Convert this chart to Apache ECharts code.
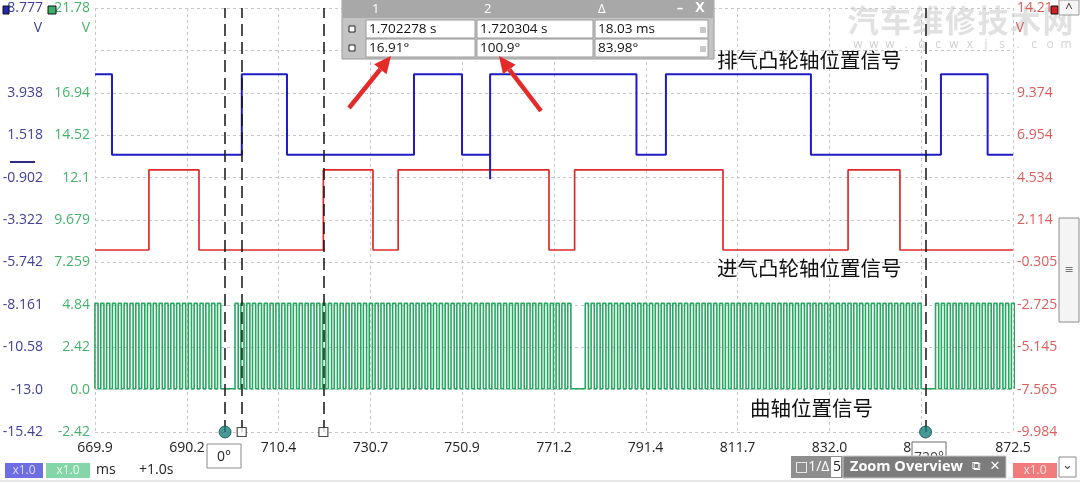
<!DOCTYPE html>
<html><head><meta charset="utf-8">
<script src="https://cdn.jsdelivr.net/npm/echarts@6/dist/echarts.min.js"></script>
<style>html,body{margin:0;padding:0;background:#fff;overflow:hidden}#c{width:1080px;height:484px}</style>
</head><body><div id="c"></div>
<script>
// ---------- data (time in ms, +1.0 s offset) ----------
const xTickLabels = ['669.9','690.2','710.4','730.7','750.9','771.2','791.4','811.7','832.0','852.2','872.5'];
const greenTickLabels = ['-2.42','0.0','2.42','4.84','7.259','9.679','12.1','14.52','16.94','21.78'];
const blueTickLabels  = ['-15.42','-13.0','-10.58','-8.161','-5.742','-3.322','-0.902','1.518','3.938','8.777'];
const redTickLabels   = ['-9.984','-7.565','-5.145','-2.725','-0.305','2.114','4.534','6.954','9.374','14.21'];

// exhaust camshaft (blue): starts high, toggles at each edge time
const exhaustEdges = [673.65, 702.3, 712.27, 740.3, 750.9, 757.1, 789.4, 795.9, 827.9, 856.6, 866.9];
const exhaustStartHigh = true;
const exhaustHigh = 5.0, exhaustLow = 0.4;
const exhaustGlitches = [[757.1, -1.0]];

// intake camshaft (red): starts low
const intakeEdges = [681.8, 692.85, 720.3, 731.25, 736.8, 770.1, 775.75, 808.5, 836.1, 847.55];
const intakeStartHigh = false;
const intakeHigh = 4.97, intakeLow = 0.4;

// crankshaft (green): rising edge time of every tooth
const crankRises = [
 669.88,671.17,672.46,673.75,675.03,676.32,677.61,678.90,680.19,681.48,682.76,684.05,685.34,686.63,687.92,689.21,690.49,691.78,693.07,694.36,695.65,696.94,
 700.80,702.09,703.38,704.66,705.95,707.24,708.53,709.82,711.11,712.39,713.68,714.97,716.26,717.55,718.84,720.12,721.41,722.70,723.99,725.28,726.57,727.85,729.14,730.43,
 731.72,733.01,734.30,735.58,736.87,738.16,739.45,740.74,742.03,743.31,744.60,745.89,747.18,748.47,749.76,751.04,752.33,753.62,754.91,756.20,757.49,758.77,760.06,761.35,
 762.64,763.93,765.22,766.50,767.79,769.08,770.37,771.66,772.94,774.23,
 778.10,779.39,780.68,781.96,783.25,784.54,785.83,787.12,788.41,789.69,790.98,792.27,793.56,794.85,796.14,797.42,798.71,800.00,801.29,802.58,803.87,805.15,806.44,807.73,
 809.02,810.31,811.60,812.88,814.17,815.46,816.75,818.04,819.33,820.61,821.90,823.19,824.48,825.77,827.06,828.34,829.63,830.92,832.21,833.50,834.79,836.07,837.36,838.65,
 839.94,841.23,842.52,843.80,845.09,846.38,847.67,848.96,850.24,851.53,
 855.40,856.69,857.98,859.26,860.55,861.84,863.13,864.42,865.71,866.99,868.28,869.57,870.86,872.15
];
const crankHighWidth = 0.7;
const crankHigh = 4.92, crankLow = 0.05;

// cursors
const phaseRulers = [698.6, 853.2];
const timeRulers = [702.278, 720.304];

// cursor table
const tableHeader = ['1', '2', 'Δ'];
const tableRow1 = ['1.702278 s', '1.720304 s', '18.03 ms'];
const tableRow2 = ['16.91°', '100.9°', '83.98°'];

// ---------- build ----------
const xVals = xTickLabels.map(parseFloat);
const xMin = xVals[0], xMax = xVals[xVals.length - 1];
const gVals = greenTickLabels.map(parseFloat);
const bVals = blueTickLabels.map(parseFloat);
const rVals = redTickLabels.map(parseFloat);

function stepData(edges, startHigh, hi, lo, glitches) {
  const pts = [];
  let s = startHigh;
  pts.push([xMin, s ? hi : lo]);
  edges.forEach(t => {
    pts.push([t, s ? hi : lo]);
    const g = glitches.find(q => Math.abs(q[0] - t) < 1e-9);
    if (g) pts.push([t, g[1]]);
    s = !s;
    pts.push([t, s ? hi : lo]);
  });
  pts.push([xMax, s ? hi : lo]);
  return pts;
}
function pulseData(rises, w, hi, lo) {
  const pts = [];
  rises.forEach(r => {
    pts.push([r, lo], [r, hi], [r + w, hi], [r + w, lo]);
  });
  return pts;
}
const exhaustData = stepData(exhaustEdges, exhaustStartHigh, exhaustHigh, exhaustLow, exhaustGlitches);
const intakeData = stepData(intakeEdges, intakeStartHigh, intakeHigh, intakeLow, []);
const crankData = pulseData(crankRises, crankHighWidth, crankHigh, crankLow);

function labelFmt(labels, vals) {
  return v => { const i = vals.findIndex(q => Math.abs(q - v) < 1e-6); return i >= 0 ? labels[i] : ''; };
}
const FONT = "'Open Sans','DejaVu Sans',sans-serif";
const CJK = "'Noto Sans CJK SC',sans-serif";

function yAx(labels, vals, color, pos, offset, margin) {
  return {
    type: 'value', position: pos, offset: offset, min: vals[0], max: vals[vals.length - 1], z: 5,
    axisLine: {show: false}, splitLine: {show: false},
    axisTick: {show: false, customValues: vals},
    axisLabel: {customValues: vals, formatter: labelFmt(labels, vals), color: color, fontSize: 14, fontFamily: FONT, margin: margin}
  };
}

const G = [];
function txt(x, y, s, o, z) {
  G.push({type: 'text', z: z || 100, style: Object.assign({x: x, y: y, text: s, fill: '#111', font: '14px ' + FONT, textAlign: 'left', textVerticalAlign: 'middle'}, o || {})});
}
function rect(x, y, w, h, fill, stroke, z) {
  G.push({type: 'rect', z: z || 100, shape: {x: x, y: y, width: w, height: h}, style: {fill: fill, stroke: stroke || null, lineWidth: 1}});
}
function arrow(x1, y1, x2, y2, color) {
  const a = Math.atan2(y2 - y1, x2 - x1), L = 17, W = 8;
  const bx = x2 - L * Math.cos(a), by = y2 - L * Math.sin(a);
  const px = -Math.sin(a) * W, py = Math.cos(a) * W;
  G.push({type: 'line', z: 110, shape: {x1: x1, y1: y1, x2: bx, y2: by}, style: {stroke: color, lineWidth: 4.5}});
  G.push({type: 'polygon', z: 110, shape: {points: [[x2, y2], [bx + px, by + py], [bx - px, by - py]]}, style: {fill: color}});
}

// watermark (behind labels)
const wm = '汽车维修技术网';
for (let i = 0; i < wm.length; i++) txt(863 + i * 32.5, 20, wm[i], {fill: 'rgba(205,205,205,0.6)', font: 'bold 31px ' + CJK, textAlign: 'center'}, -5);
const wm2 = 'www.qcwxjs.com';
for (let i = 0; i < wm2.length; i++) txt(858 + i * 16, 45, wm2[i], {fill: 'rgba(190,190,190,0.7)', font: '12px ' + FONT, textAlign: 'center'}, -5);

// top-left/right unit markers
rect(3, 6, 6, 8, '#2424b8', '#111');
rect(48, 6, 8, 8, '#3cb06a', '#111');
rect(1051, 6, 7, 8, '#d42020', '#111');
txt(38, 28, 'V', {fill: '#40409a', textAlign: 'center'});
txt(86, 28, 'V', {fill: '#45b36b', textAlign: 'center'});
txt(1020, 28, 'V', {fill: '#e15b5b', textAlign: 'center'});
G.push({type: 'line', z: 100, shape: {x1: 10, y1: 162, x2: 35, y2: 162}, style: {stroke: '#2b2b8a', lineWidth: 2}});

// scrollbar
rect(1059, 0, 20, 15, '#f6f6f6', '#999');
txt(1069, 8, '^', {fill: '#333', font: '13px ' + FONT, textAlign: 'center'});
rect(1059, 218, 20, 104, '#f4f4f4', '#8a8a8a');
txt(1069, 270, '≡', {fill: '#777', font: '11px ' + FONT, textAlign: 'center'});

// cursor table
rect(342, -1, 372, 60, '#c4c4c4', '#9a9a9a');
rect(343, 0, 370, 18, '#a8a8a8');
[372, 484, 598].forEach((x, i) => txt(x, 9, tableHeader[i], {fill: '#fff', font: '13px ' + FONT}));
txt(680, 8, '–', {fill: '#fff', font: 'bold 13px ' + FONT, textAlign: 'center'});
txt(700, 8, 'X', {fill: '#fff', font: 'bold 14px ' + FONT, textAlign: 'center'});
[[20, tableRow1], [39, tableRow2]].forEach(([y, row]) => {
  rect(366, y, 109, 18, '#fff', '#9a9a9a');
  rect(477, y, 116, 18, '#fff', '#9a9a9a');
  rect(595, y, 113, 18, '#fff', '#9a9a9a');
  rect(349, y + 6, 6, 6, '#fff', '#222');
  rect(700, y + 7, 6, 6, '#c8c8c8');
  [369, 480, 598].forEach((x, i) => txt(x, y + 9, row[i], {font: '13.5px ' + FONT}));
});

// arrows
arrow(349, 108, 391, 56, '#e52a2a');
arrow(541, 111, 499, 56, '#e52a2a');

// signal names
txt(717, 60, '排气凸轮轴位置信号', {font: '20.5px ' + CJK});
txt(717, 268, '进气凸轮轴位置信号', {font: '20.5px ' + CJK});
txt(750, 408, '曲轴位置信号', {font: '20.5px ' + CJK});

// bottom bar
rect(5, 463, 38, 15, '#6e6ee2');
txt(24, 470.5, 'x1.0', {fill: '#dcdcff', font: '12px ' + FONT, textAlign: 'center'});
rect(46, 463, 44, 15, '#84d6a8');
txt(68, 470.5, 'x1.0', {fill: '#eafff2', font: '12px ' + FONT, textAlign: 'center'});
txt(96, 470, 'ms', {fill: '#222'});
txt(139, 470, '+1.0s', {fill: '#222'});
rect(207, 444, 34, 24, '#fff', '#8a8a8a');
txt(224, 457, '0°', {fill: '#222', textAlign: 'center'});
rect(912, 442, 34, 22, '#fff', '#6a6a6a');
txt(929, 458, '720°', {fill: '#444', font: '14px ' + FONT, textAlign: 'center'});
rect(791, 456, 215, 22, '#8e8e8e');
txt(795, 467, '□1/Δ', {fill: '#fff', font: '14px ' + FONT});
rect(831, 457, 10, 20, '#fff');
txt(833, 467, '5', {fill: '#222', font: '14px ' + FONT});
rect(843, 456, 163, 22, '#7c7c7c', '#c8c8c8');
txt(850, 467, 'Zoom Overview', {fill: '#fff', font: 'bold 14.5px ' + FONT});
txt(976, 467, '⧉', {fill: '#fff', font: '12px DejaVu Sans', textAlign: 'center'});
txt(995, 467, '✕', {fill: '#fff', font: 'bold 13px DejaVu Sans', textAlign: 'center'});
rect(1013, 463, 44, 15, '#f27c7c');
txt(1035, 470.5, 'x1.0', {fill: '#ffe4e4', font: '12px ' + FONT, textAlign: 'center'});
rect(1059, 457, 17, 20, '#fff', '#8a8a8a');
txt(1067.5, 466, '⌄', {fill: '#444', font: '13px DejaVu Sans', textAlign: 'center'});
G.push({type: 'line', z: 90, shape: {x1: 0, y1: 481, x2: 1080, y2: 481}, style: {stroke: '#cfcfcf', lineWidth: 1}});

const grid = {left: 95, right: 67, top: 8, bottom: 52, containLabel: false, outerBoundsMode: 'none'};
const gridLine = {show: true, lineStyle: {color: '#c6c6c6', type: [3, 3], width: 1}};

const option = {
  animation: false,
  backgroundColor: '#fff',
  grid: grid,
  xAxis: [
    {type: 'value', min: xMin, max: xMax, position: 'bottom', z: 5,
     axisLine: {show: false}, splitLine: {show: false},
     axisTick: {show: false, customValues: xVals},
     axisLabel: {customValues: xVals, formatter: labelFmt(xTickLabels, xVals), color: '#222', fontSize: 14, fontFamily: FONT, margin: 9}},
    {type: 'value', min: 0, max: 10, interval: 1, position: 'top', axisLine: {show: false}, axisTick: {show: false}, axisLabel: {show: false}, splitLine: gridLine}
  ],
  yAxis: [
    yAx(greenTickLabels, gVals, '#45b36b', 'left', 0, 5),
    yAx(blueTickLabels, bVals, '#40409a', 'left', 44, 8),
    yAx(redTickLabels, rVals, '#e15b5b', 'right', 0, 4),
    {type: 'value', min: 0, max: 10, interval: 1, position: 'right', axisLine: {show: false}, axisTick: {show: false}, axisLabel: {show: false}, splitLine: gridLine}
  ],
  series: [
    {type: 'line', name: 'crank', xAxisIndex: 0, yAxisIndex: 0, data: crankData, showSymbol: false, symbol: 'none',
     lineStyle: {color: '#27a862', width: 1.6}, z: 2},
    {type: 'line', name: 'intake', xAxisIndex: 0, yAxisIndex: 2, data: intakeData, showSymbol: false, symbol: 'none',
     lineStyle: {color: '#e02a2a', width: 1.7}, z: 3},
    {type: 'line', name: 'exhaust', xAxisIndex: 0, yAxisIndex: 1, data: exhaustData, showSymbol: false, symbol: 'none',
     lineStyle: {color: '#1d1dc2', width: 2}, z: 4},
    {type: 'scatter', name: 'phase', xAxisIndex: 0, yAxisIndex: 0, clip: false, z: 6,
     data: phaseRulers.map(t => [t, gVals[0]]), symbol: 'circle', symbolSize: 12,
     itemStyle: {color: '#1a7f7c', borderColor: '#0d5250', borderWidth: 1},
     markLine: {silent: true, symbol: ['none', 'none'], label: {show: false},
       lineStyle: {color: '#151515', width: 1.5, type: [12, 6]},
       data: phaseRulers.concat(timeRulers).map(t => ({xAxis: t}))}},
    {type: 'scatter', name: 'time', xAxisIndex: 0, yAxisIndex: 0, clip: false, z: 6,
     data: timeRulers.map(t => [t, gVals[0]]), symbol: 'rect', symbolSize: 9,
     itemStyle: {color: '#fff', borderColor: '#222', borderWidth: 1.2}}
  ],
  graphic: G
};
const chart = echarts.init(document.getElementById('c'));
chart.setOption(option);
</script>
</body></html>
